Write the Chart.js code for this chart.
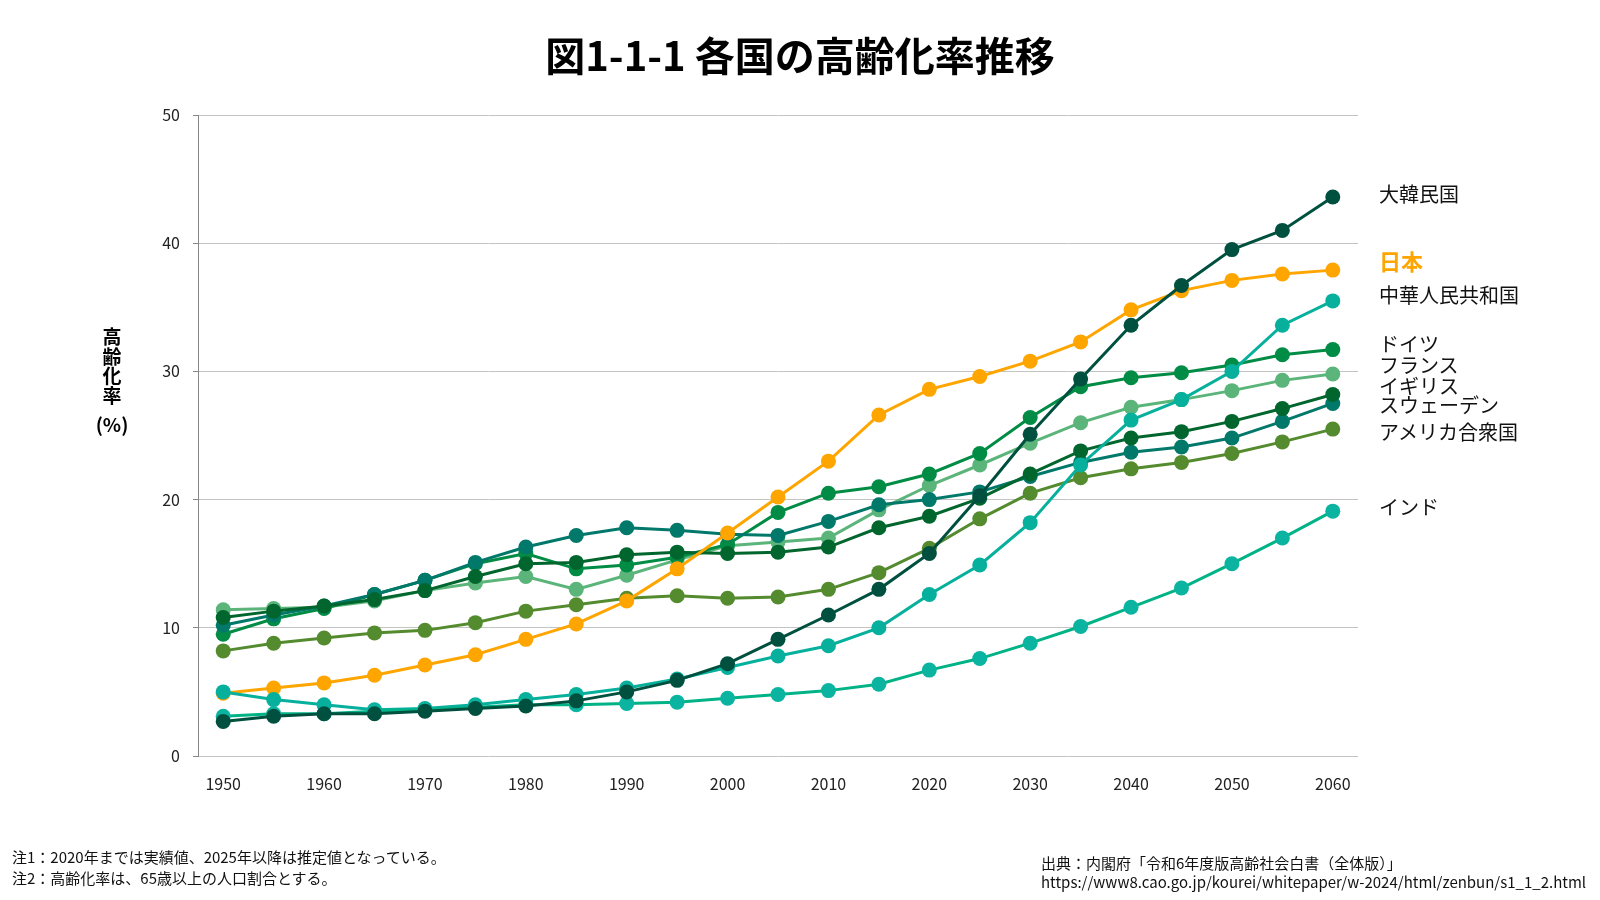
<!DOCTYPE html>
<html lang="ja">
<head>
<meta charset="utf-8">
<script src="https://cdn.jsdelivr.net/npm/chart.js@4/dist/chart.umd.min.js"></script>
<style>
  html, body { margin: 0; padding: 0; background: #fff; }
  body { width: 1600px; height: 900px; position: relative; overflow: hidden;
         font-family: "Noto Sans CJK JP", "Noto Sans", sans-serif; color: #111; }
  #wrap { position: absolute; left: 0; top: 0; width: 1600px; height: 900px; }
  .t { position: absolute; white-space: nowrap; line-height: 1; }
  #title { left: 0; width: 1600px; text-align: center; top: 34px; font-size: 40px; font-weight: 700; color: #000; }
  #ylab { left: 100px; width: 24px; top: 326px; font-size: 19px; font-weight: 700; text-align: center; line-height: 19.5px; color: #000; }
  #ypct { left: 92px; width: 40px; top: 414px; font-size: 19px; font-weight: 700; text-align: center; color: #000; }
  .lab { left: 1379px; font-size: 20px; color: #111; transform: translateY(-50%); }
  .note { left: 12px; font-size: 15px; color: #111; transform: translateY(-50%); }
  .src { left: 1041px; font-size: 15px; color: #111; transform: translateY(-50%); }
</style>
</head>
<body>
<div id="wrap"><canvas id="c" width="1600" height="900"></canvas></div>
<div class="t" id="title">図1-1-1 各国の高齢化率推移</div>
<div class="t" id="ylab">高<br>齢<br>化<br>率</div>
<div class="t" id="ypct">(%)</div>
<div class="t lab" style="top:194px">大韓民国</div>
<div class="t lab" style="top:260px;font-size:22px;font-weight:700;color:#FFA500">日本</div>
<div class="t lab" style="top:295px">中華人民共和国</div>
<div class="t lab" style="top:344px">ドイツ</div>
<div class="t lab" style="top:365px">フランス</div>
<div class="t lab" style="top:386px">イギリス</div>
<div class="t lab" style="top:405px">スウェーデン</div>
<div class="t lab" style="top:432px">アメリカ合衆国</div>
<div class="t lab" style="top:507px">インド</div>
<div class="t note" style="top:856px">注1：2020年までは実績値、2025年以降は推定値となっている。</div>
<div class="t note" style="top:877px">注2：高齢化率は、65歳以上の人口割合とする。</div>
<div class="t src" style="top:862px">出典：内閣府「令和6年度版高齢社会白書（全体版）」</div>
<div class="t src" style="top:881px">https://www8.cao.go.jp/kourei/whitepaper/w-2024/html/zenbun/s1_1_2.html</div>
<script>
const years = ["1950","1955","1960","1965","1970","1975","1980","1985","1990","1995","2000","2005","2010","2015","2020","2025","2030","2035","2040","2045","2050","2055","2060"];
const tickLabels = ["1950","1960","1970","1980","1990","2000","2010","2020","2030","2040","2050","2060"];
const yTicks = [0, 10, 20, 30, 40, 50];

const korea   = [2.7, 3.1, 3.3, 3.3, 3.5, 3.7, 3.9, 4.3, 5.0, 5.9, 7.2, 9.1, 11.0, 13.0, 15.8, 20.3, 25.1, 29.4, 33.6, 36.7, 39.5, 41.0, 43.6];
const japan   = [4.9, 5.3, 5.7, 6.3, 7.1, 7.9, 9.1, 10.3, 12.1, 14.6, 17.4, 20.2, 23.0, 26.6, 28.6, 29.6, 30.8, 32.3, 34.8, 36.3, 37.1, 37.6, 37.9];
const china   = [5.0, 4.4, 4.0, 3.6, 3.7, 4.0, 4.4, 4.8, 5.3, 6.0, 6.9, 7.8, 8.6, 10.0, 12.6, 14.9, 18.2, 22.7, 26.2, 27.8, 30.0, 33.6, 35.5];
const germany = [9.5, 10.7, 11.5, 12.6, 13.7, 15.0, 15.8, 14.6, 14.9, 15.5, 16.5, 19.0, 20.5, 21.0, 22.0, 23.6, 26.4, 28.8, 29.5, 29.9, 30.5, 31.3, 31.7];
const france  = [11.4, 11.5, 11.6, 12.1, 12.9, 13.5, 14.0, 13.0, 14.1, 15.3, 16.4, 16.7, 17.0, 19.2, 21.1, 22.7, 24.4, 26.0, 27.2, 27.8, 28.5, 29.3, 29.8];
const uk      = [10.8, 11.3, 11.7, 12.2, 12.9, 14.0, 15.0, 15.1, 15.7, 15.9, 15.8, 15.9, 16.3, 17.8, 18.7, 20.1, 22.0, 23.8, 24.8, 25.3, 26.1, 27.1, 28.2];
const sweden  = [10.2, 11.0, 11.7, 12.6, 13.7, 15.1, 16.3, 17.2, 17.8, 17.6, 17.3, 17.2, 18.3, 19.6, 20.0, 20.6, 21.8, 22.9, 23.7, 24.1, 24.8, 26.1, 27.5];
const usa     = [8.2, 8.8, 9.2, 9.6, 9.8, 10.4, 11.3, 11.8, 12.3, 12.5, 12.3, 12.4, 13.0, 14.3, 16.2, 18.5, 20.5, 21.7, 22.4, 22.9, 23.6, 24.5, 25.5];
const india   = [3.1, 3.3, 3.3, 3.5, 3.6, 3.8, 4.0, 4.0, 4.1, 4.2, 4.5, 4.8, 5.1, 5.6, 6.7, 7.6, 8.8, 10.1, 11.6, 13.1, 15.0, 17.0, 19.1];

function ds(label, data, color, ptColor) {
  return {
    label, data,
    borderColor: color,
    backgroundColor: ptColor || color,
    pointBackgroundColor: ptColor || color,
    pointBorderColor: ptColor || color,
    borderWidth: 3,
    pointRadius: 7.5,
    pointBorderWidth: 0,
    tension: 0,
    fill: false
  };
}

new Chart(document.getElementById('c'), {
  type: 'line',
  data: {
    labels: years,
    datasets: [
      ds('大韓民国', korea, '#00503F'),
      ds('インド', india, '#00B386', '#0BB4A0'),
      ds('中華人民共和国', china, '#06B09C'),
      ds('日本', japan, '#FFA500'),
      ds('イギリス', uk, '#00662E'),
      ds('スウェーデン', sweden, '#00786A'),
      ds('ドイツ', germany, '#008C44'),
      ds('フランス', france, '#5BB57A'),
      ds('アメリカ合衆国', usa, '#558B2F')
    ]
  },
  options: {
    responsive: false,
    animation: false,
    devicePixelRatio: 1,
    layout: { padding: { left: 138, right: 242, top: 115, bottom: 0 } },
    plugins: { legend: { display: false }, tooltip: { enabled: false }, title: { display: false } },
    scales: {
      x: {
        offset: true,
        grid: { display: false },
        border: { display: false },
        ticks: {
          autoSkip: false, maxRotation: 0, padding: 10,
          color: '#222',
          font: { family: '"Noto Sans CJK JP", "Noto Sans", sans-serif', size: 16 },
          callback: function(v, i) { return tickLabels.includes(years[i]) ? years[i] : ''; }
        },
        afterFit: function(s) { s.height = 144; }
      },
      y: {
        min: 0, max: 50,
        afterBuildTicks: function(s) { s.ticks = yTicks.map(v => ({ value: v })); },
        grid: { color: '#c4c4c4', lineWidth: 1, tickLength: 5, tickColor: '#888' },
        border: { display: true, color: '#888', width: 1 },
        ticks: {
          padding: 13, color: '#222',
          font: { family: '"Noto Sans CJK JP", "Noto Sans", sans-serif', size: 16 }
        },
        afterFit: function(s) { s.width = 60; }
      }
    }
  }
});
</script>
</body>
</html>
